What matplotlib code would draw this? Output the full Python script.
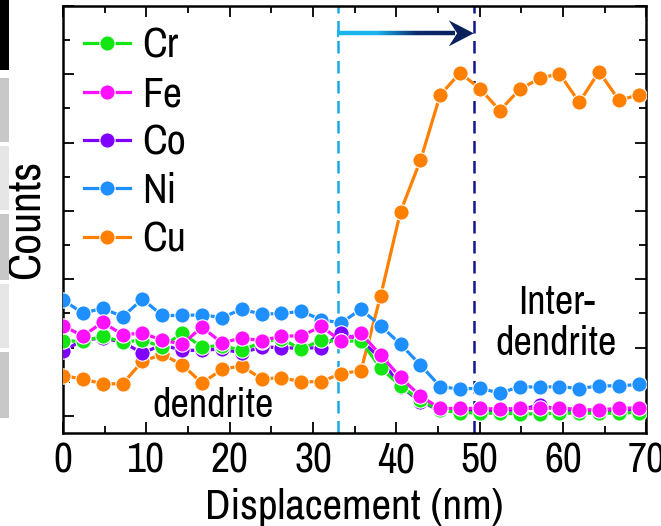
import numpy as np
import matplotlib
matplotlib.use("Agg")
import matplotlib.pyplot as plt
from matplotlib.collections import LineCollection
from matplotlib.colors import LinearSegmentedColormap
from matplotlib.patches import Polygon, Rectangle

plt.rcParams['font.family'] = ['Archivo Narrow', 'Liberation Sans', 'DejaVu Sans']

# ---- data ----
step = 2.383
n_pts = 30
displacement = np.arange(n_pts) * step

cr = [1.10, 1.09, 1.17, 1.08, 1.11, 1.01, 1.21, 1.01, 1.03, 0.96,
      1.08, 1.13, 0.975, 1.11, 1.09, 1.10, 0.70, 0.44, 0.23, 0.08,
      0.05, 0.04, 0.04, 0.03, 0.03, 0.04, 0.04, 0.04, 0.04, 0.05]
fe = [1.32, 1.17, 1.37, 1.19, 1.21, 1.11, 1.05, 1.30, 1.07, 1.14,
      1.10, 1.17, 1.17, 1.31, 1.10, 1.21, 0.89, 0.565, 0.29, 0.11,
      0.11, 0.11, 0.10, 0.11, 0.11, 0.12, 0.09, 0.09, 0.11, 0.12]
co = [0.95, 1.11, 1.14, 1.08, 0.92, 1.04, 0.96, 0.96, 0.98, 0.92,
      1.01, 1.00, 0.99, 1.00, 1.21, 1.11, 0.84, 0.43, 0.21, 0.08,
      0.07, 0.08, 0.08, 0.09, 0.16, 0.09, 0.08, 0.06, 0.09, 0.09]
ni = [1.70, 1.50, 1.58, 1.45, 1.71, 1.47, 1.47, 1.48, 1.44, 1.56,
      1.49, 1.50, 1.53, 1.41, 1.36, 1.56, 1.32, 1.05, 0.745, 0.43,
      0.39, 0.41, 0.33, 0.43, 0.42, 0.43, 0.40, 0.44, 0.44, 0.46]
cu = [0.59, 0.54, 0.47, 0.47, 0.80, 0.90, 0.75, 0.48, 0.68, 0.735,
      0.54, 0.56, 0.50, 0.50, 0.62, 0.66, 1.76, 2.99, 3.74, 4.70,
      5.02, 4.79, 4.47, 4.78, 4.94, 5.01, 4.59, 5.04, 4.62, 4.70]

labels = ['Cr', 'Fe', 'Co', 'Ni', 'Cu']
series = [cr, fe, co, ni, cu]
colors = ['#14e614', '#ff10ff', '#7f00ff', '#1e8fff', '#ff8000']
draw_order = [4, 3, 2, 0, 1]

boundary_start = 33.0
boundary_end = 49.3
xticks = [0, 10, 20, 30, 40, 50, 60, 70]

# ---- figure ----
fig = plt.figure(figsize=(6.61, 5.26), dpi=100)
ax = fig.add_axes([0.0953, 0.1768, 0.8824, 0.8118])

# cropped colour blocks at left edge
blocks = [(0, 70, '#000000'), (78, 142, '#c8c8c8'), (146, 210, '#e6e6e6'),
          (214, 280, '#c8c8c8'), (284, 348, '#e6e6e6'), (352, 418, '#c8c8c8')]
for y0, y1, c in blocks:
    fig.add_artist(Rectangle((0, 1 - y1 / 526), 9 / 661, (y1 - y0) / 526,
                             transform=fig.transFigure, color=c, lw=0))

handles = {}
for k in draw_order:
    h, = ax.plot(displacement, series[k], '-o', color=colors[k], lw=2.3,
                 ms=11, mec='white', mew=0.8, label=labels[k],
                 zorder=3 + draw_order.index(k))
    handles[k] = h

ax.axvline(boundary_start, color='#1aa8e2', lw=1.8, ls=(0, (5, 3)), zorder=2)
ax.axvline(boundary_end, color='#141490', lw=1.8, ls=(0, (5, 3)), zorder=2)

# gradient arrow
ya = 5.6
xs = np.linspace(boundary_start, boundary_end - 2.2, 120)
segs = [[(xs[i], ya), (xs[i + 1], ya)] for i in range(len(xs) - 1)]
cmap = LinearSegmentedColormap.from_list('g', ['#1ab4ee', '#1ab4ee', '#0b2a6e', '#0a1f5c'])
lc = LineCollection(segs, colors=cmap(np.linspace(0, 1, len(segs))), linewidths=3.2,
                    capstyle='butt', zorder=6)
ax.add_collection(lc)
ax.plot([boundary_start, boundary_start], [ya - 0.04, ya + 0.04], color='#1ab4ee',
        lw=1.5, zorder=6)
head = Polygon([(boundary_end, ya), (boundary_end - 3.0, ya + 0.19),
                (boundary_end - 2.0, ya), (boundary_end - 3.0, ya - 0.19)],
               closed=True, color='#0a1f5c', lw=0, zorder=7)
ax.add_patch(head)

ax.text(18.0, 0.15, 'dendrite', fontsize=29, ha='center', va='center')
ax.text(59.2, 1.36, 'Inter-\ndendrite', fontsize=29, ha='center', va='center',
        linespacing=1.15)

ax.set_xlim(0, 70)
ax.set_ylim(-0.25, 6)
ax.set_xticks(xticks)
ax.set_xticks(np.arange(0, 71, 5), minor=True)
ax.set_yticks(np.arange(0, 7, 1))
ax.set_yticks(np.arange(0.5, 6, 1), minor=True)
ax.set_yticklabels([])
ax.tick_params(which='both', direction='in', top=True, right=True, width=1.3)
ax.tick_params(which='major', length=8, labelsize=30, pad=6)
ax.tick_params(which='minor', length=5)
for s in ax.spines.values():
    s.set_linewidth(1.8)

ax.set_xlabel('Displacement (nm)', fontsize=31, labelpad=6)
ax.set_ylabel('Counts', fontsize=33, labelpad=5)

leg = ax.legend([handles[k] for k in range(5)], labels, loc='upper left',
                bbox_to_anchor=(0.0, 1.0), frameon=False, fontsize=30,
                handlelength=1.1, handletextpad=0.3, labelspacing=0.25,
                borderaxespad=0.2, borderpad=0.3)

fig.savefig('out.png', dpi=100)
